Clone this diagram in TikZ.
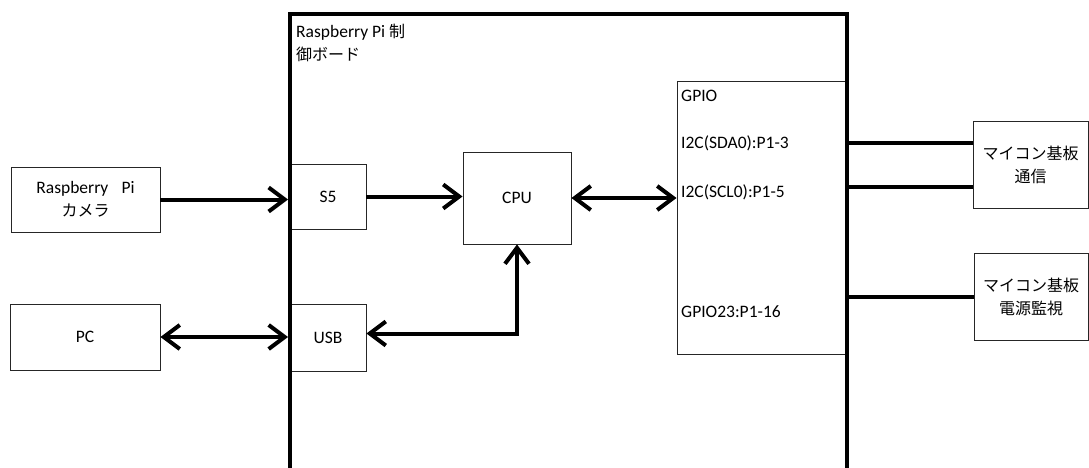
\documentclass[tikz,border=0pt]{standalone}
\usepackage{fontspec}
\setmainfont{Carlito}
\newfontfamily\cjk{Noto Sans CJK JP}
\newcommand\jp[1]{{\cjk\fontsize{16}{22}\selectfont #1}}
\usetikzlibrary{arrows.meta,calc}
\begin{document}
\begin{tikzpicture}[x=1pt,y=-1pt,
  font=\fontsize{17.5}{23}\selectfont,
  box/.style={draw=black!85,line width=0.9pt,minimum width=#1,inner sep=0pt,align=center},
  thick line/.style={line width=4pt},
  tipR/.style={line width=4pt,-{Straight Barb[length=16pt,width=24pt]}},
  tipLR/.style={line width=4pt,{Straight Barb[length=16pt,width=24pt]}-{Straight Barb[length=16pt,width=24pt]}},
  pin/.style={anchor=west,inner sep=0pt}]
\useasboundingbox (0,0) rectangle (1089,468);
\fill[white] (0,0) rectangle (1089,468);
% external boxes
\node[box=149pt,minimum height=65pt] (cam) at (85.5,199.5) {Raspberry\hspace{0.75em}Pi\\\jp{カメラ}};
\node[box=150pt,minimum height=66pt] (pc) at (85,337) {PC};
% inner boxes
\node[box=76pt,minimum height=65pt] (s5) at (328,196.5) {S5};
\node[box=76pt,minimum height=67pt] (usb) at (328,337.5) {USB};
\node[box=108pt,minimum height=92pt] (cpu) at (517,198) {CPU};
\node[box=169pt,minimum height=273pt] (gpio) at (761.5,217.5) {};
% board
\node[draw,line width=4pt,minimum width=557pt,minimum height=486pt,inner sep=0pt] (board) at (568.5,257) {};
\node[anchor=north west,inner sep=0pt,align=left] (boardlabel) at (296,24) {Raspberry Pi \jp{制}\\\jp{御ボード}};
% right boxes
\node[box=115pt,minimum height=87pt] (mc1) at (1030.5,164.5) {\jp{マイコン基板}\\\jp{通信}};
\node[box=114pt,minimum height=87pt] (mc2) at (1031,296.5) {\jp{マイコン基板}\\\jp{電源監視}};
% GPIO texts
\node[pin] (gpiot) at (681,96) {GPIO};
\node[pin] (sda) at (681,143) {I2C(SDA0):P1-3};
\node[pin] (scl) at (681,192) {I2C(SCL0):P1-5};
\node[pin] (g23) at (681,312) {GPIO23:P1-16};
% connectors
\draw[tipR] (cam.east) -- (cam.east -| board.west);
\draw[tipR] (s5.east) -- (s5.east -| cpu.west);
\draw[tipLR] (cpu.east) -- (cpu.east -| gpio.west);
\draw[tipLR] (pc.east) -- (pc.east -| board.west);
\draw[tipLR] ($(usb.east)+(0,-4)$) coordinate (ue) -| (cpu.south);
\draw[thick line] ($(mc1.north west)!0.253!(mc1.south west)$) coordinate (m1a) -- (m1a -| board.east);
\draw[thick line] ($(mc1.north west)!0.76!(mc1.south west)$) coordinate (m1b) -- (m1b -| board.east);
\draw[thick line] (mc2.west) -- (mc2.west -| board.east);
\end{tikzpicture}
\end{document}
